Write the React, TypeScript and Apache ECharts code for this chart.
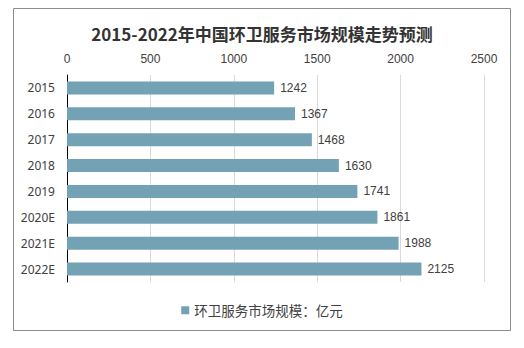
import React, { useEffect, useRef } from "react";
import * as echarts from "echarts";

const categories = ["2015", "2016", "2017", "2018", "2019", "2020E", "2021E", "2022E"];
const values = [1242, 1367, 1468, 1630, 1741, 1861, 1988, 2125];
const seriesName = "环卫服务市场规模：亿元";
const titleText = "2015-2022年中国环卫服务市场规模走势预测";

export default function App() {
  const ref = useRef<HTMLDivElement>(null);
  useEffect(() => {
    const chart = echarts.init(ref.current!, null, { renderer: "svg" });
    chart.setOption({
      animation: false,
      backgroundColor: "#ffffff",
      title: {
        text: titleText,
        left: "center",
        top: 20,
        textStyle: {
          fontFamily: "Noto Sans CJK SC",
          fontWeight: "bold",
          fontSize: 17,
          color: "#333333",
        },
      },
      graphic: [
        {
          type: "rect",
          shape: { x: 13.5, y: 8.5, width: 497, height: 322 },
          style: { fill: "none", stroke: "#8c8c8c", lineWidth: 1 },
          silent: true,
        },
      ],
      legend: {
        bottom: 26,
        left: "center",
        itemWidth: 8,
        itemHeight: 8,
        itemGap: 4,
        icon: "rect",
        textStyle: { fontFamily: "Noto Sans CJK SC", fontSize: 13.5, color: "#404040" },
        data: [seriesName],
      },
      grid: { left: 67, right: 40, top: 75, bottom: 66 },
      xAxis: {
        type: "value",
        position: "top",
        min: 0,
        max: 2500,
        interval: 500,
        axisLine: { show: false },
        axisTick: { show: false },
        axisLabel: {
          fontFamily: "Liberation Sans",
          fontSize: 12,
          color: "#404040",
          margin: 10,
          formatter: (v: number) => String(v),
        },
        splitLine: { lineStyle: { color: "#d9d9d9" } },
      },
      yAxis: {
        type: "category",
        inverse: true,
        data: categories,
        axisLine: { show: true, lineStyle: { color: "#000000" } },
        axisTick: { show: false },
        axisLabel: { fontFamily: "Noto Sans", fontSize: 12, color: "#404040", margin: 12 },
      },
      series: [
        {
          name: seriesName,
          type: "bar",
          data: values,
          barWidth: 13,
          itemStyle: { color: "#73a2b4" },
          label: {
            show: true,
            position: "right",
            distance: 6,
            fontFamily: "Liberation Sans",
            fontSize: 12,
            color: "#404040",
          },
        },
      ],
    });
    return () => chart.dispose();
  }, []);
  return (
    <div
      ref={ref}
      style={{ position: "fixed", left: 0, top: 0, width: 524, height: 348 }}
    />
  );
}
